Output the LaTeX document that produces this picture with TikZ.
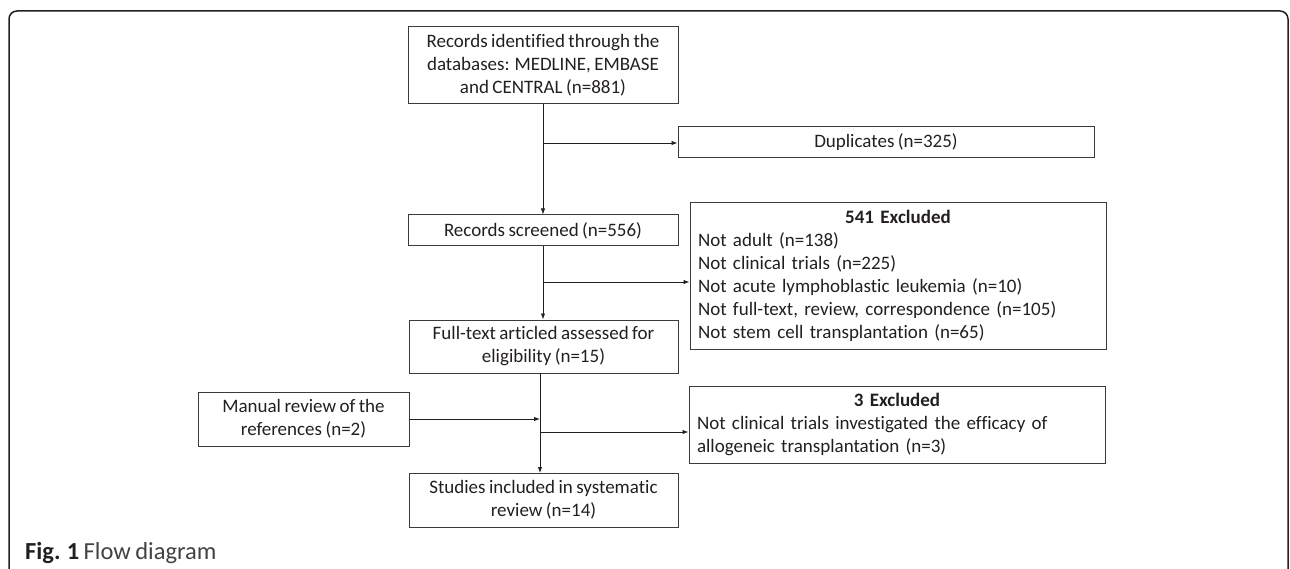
\documentclass[tikz,border=0pt]{standalone}
\usepackage{fontspec}
\setmainfont{Carlito}[Ligatures=NoCommon,WordSpace=0.8]
\usetikzlibrary{arrows.meta}
\definecolor{txt}{HTML}{231F20}
\definecolor{edge}{HTML}{3A3A3A}
\begin{document}
\begin{tikzpicture}[x=1pt,y=-1pt,
  box/.style={draw=edge,line width=1pt,rectangle,inner sep=0pt,text=txt,
    font=\fontsize{19}{23}\selectfont,align=center},
  lbox/.style={draw=edge,line width=1pt,rectangle,inner xsep=8pt,inner ysep=0pt,text=txt,
    font=\fontsize{19}{23}\selectfont,align=left},
  conn/.style={draw=txt,line width=0.9pt},
  arr/.style={conn,-{Latex[length=6pt,width=4.5pt]}}]
\useasboundingbox (0,0) rectangle (1290,569);
% frame
\draw[line width=1.5pt,draw=txt,rounded corners=8pt] (9,600) -- (9,11) -- (1288,11) -- (1288,600);
% nodes
\node[box,minimum width=270pt,minimum height=77pt] (rec) at (543,65.5)
  {Records identified through the\\databases: MEDLINE, EMBASE\\and CENTRAL (n=881)};
\node[box,minimum width=416pt,minimum height=31pt] (dup) at (886,142.5) {Duplicates (n=325)};
\node[box,minimum width=270pt,minimum height=31pt] (scr) at (543,230.5) {Records screened (n=556)};
\node[lbox,text width=400pt,minimum height=146pt] (ex1) at (898,276)
  {\makebox[\linewidth]{\textbf{541 Excluded}}\\
   Not adult (n=138)\\
   Not clinical trials (n=225)\\
   Not acute lymphoblastic leukemia (n=10)\\
   Not full-text, review, correspondence (n=105)\\
   Not stem cell transplantation (n=65)};
\node[box,minimum width=269pt,minimum height=53pt] (full) at (543.5,346.5)
  {Full-text articled assessed for\\eligibility (n=15)};
\node[box,minimum width=211pt,minimum height=54pt] (man) at (303.5,419)
  {Manual review of the\\references (n=2)};
\node[lbox,text width=400pt,minimum height=77pt] (ex2) at (897,424.5)
  {\makebox[\linewidth]{\textbf{3 Excluded}}\\
   Not clinical trials investigated the efficacy of\\
   allogeneic transplantation (n=3)};
\node[box,minimum width=269pt,minimum height=54pt] (stu) at (543.5,500)
  {Studies included in systematic\\review (n=14)};
\node[anchor=west,inner sep=0pt,text=txt,font=\fontsize{24.5}{28}\selectfont] (cap) at (25,553)
  {\textbf{Fig. 1} \textcolor{txt!85}{Flow diagram}};
% junctions
\coordinate (j1) at (543,143);
\coordinate (j2) at (543,282);
\coordinate (t1) at (540,373);
\coordinate (j3) at (540,419);
\coordinate (j4) at (540,432);
\coordinate (t2) at (540,473);
% connectors
\draw[arr] (rec.south) -- (scr.north);
\draw[arr] (j1) -- (j1 -| dup.west);
\draw[arr] (scr.south) -- (full.north -| scr.south);
\draw[arr] (j2) -- (j2 -| ex1.west);
\draw[arr] (t1) -- (t2);
\draw[arr] (man.east |- j3) -- (j3);
\draw[arr] (j4) -- (j4 -| ex2.west);
\end{tikzpicture}
\end{document}
